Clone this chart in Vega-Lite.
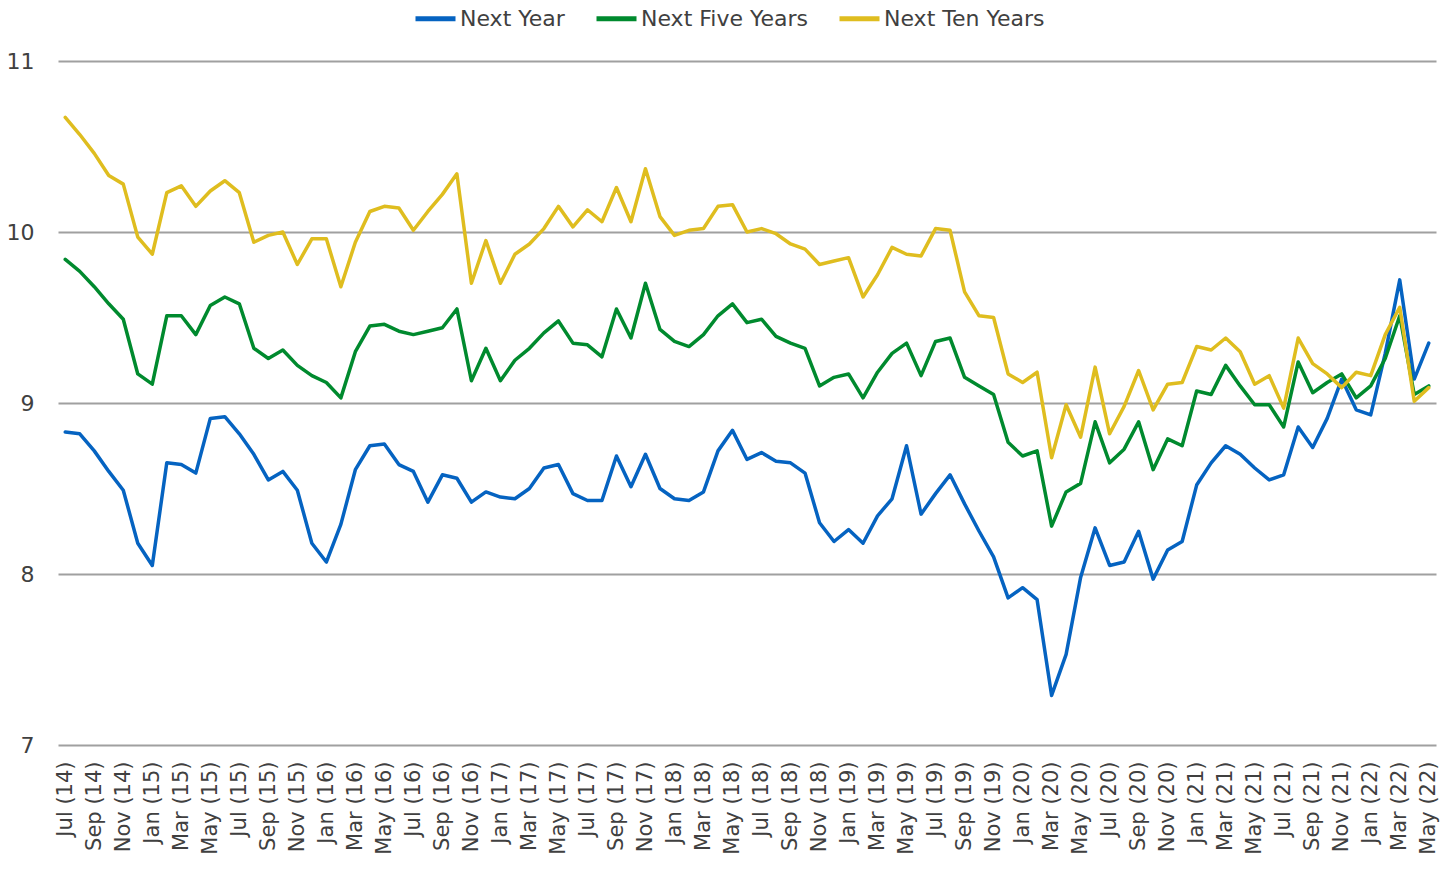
{
  "$schema": "https://vega.github.io/schema/vega-lite/v6.json",
  "autosize": {"type": "none"},
  "padding": {"left": 58, "top": 61, "right": 5, "bottom": 125},
  "width": 1378,
  "height": 684,
  "background": "#ffffff",
  "config": {
    "view": {"stroke": null},
    "font": "DejaVu Sans"
  },
  "data": {
    "values": [
      {"m": "Jul (14)", "Next Year": 8.83, "Next Five Years": 9.84, "Next Ten Years": 10.67},
      {"m": "Aug (14)", "Next Year": 8.82, "Next Five Years": 9.77, "Next Ten Years": 10.57},
      {"m": "Sep (14)", "Next Year": 8.72, "Next Five Years": 9.68, "Next Ten Years": 10.46},
      {"m": "Oct (14)", "Next Year": 8.60, "Next Five Years": 9.58, "Next Ten Years": 10.33},
      {"m": "Nov (14)", "Next Year": 8.49, "Next Five Years": 9.49, "Next Ten Years": 10.28},
      {"m": "Dec (14)", "Next Year": 8.18, "Next Five Years": 9.17, "Next Ten Years": 9.97},
      {"m": "Jan (15)", "Next Year": 8.05, "Next Five Years": 9.11, "Next Ten Years": 9.87},
      {"m": "Feb (15)", "Next Year": 8.65, "Next Five Years": 9.51, "Next Ten Years": 10.23},
      {"m": "Mar (15)", "Next Year": 8.64, "Next Five Years": 9.51, "Next Ten Years": 10.27},
      {"m": "Apr (15)", "Next Year": 8.59, "Next Five Years": 9.40, "Next Ten Years": 10.15},
      {"m": "May (15)", "Next Year": 8.91, "Next Five Years": 9.57, "Next Ten Years": 10.24},
      {"m": "Jun (15)", "Next Year": 8.92, "Next Five Years": 9.62, "Next Ten Years": 10.30},
      {"m": "Jul (15)", "Next Year": 8.82, "Next Five Years": 9.58, "Next Ten Years": 10.23},
      {"m": "Aug (15)", "Next Year": 8.70, "Next Five Years": 9.32, "Next Ten Years": 9.94},
      {"m": "Sep (15)", "Next Year": 8.55, "Next Five Years": 9.26, "Next Ten Years": 9.98},
      {"m": "Oct (15)", "Next Year": 8.60, "Next Five Years": 9.31, "Next Ten Years": 10.00},
      {"m": "Nov (15)", "Next Year": 8.49, "Next Five Years": 9.22, "Next Ten Years": 9.81},
      {"m": "Dec (15)", "Next Year": 8.18, "Next Five Years": 9.16, "Next Ten Years": 9.96},
      {"m": "Jan (16)", "Next Year": 8.07, "Next Five Years": 9.12, "Next Ten Years": 9.96},
      {"m": "Feb (16)", "Next Year": 8.29, "Next Five Years": 9.03, "Next Ten Years": 9.68},
      {"m": "Mar (16)", "Next Year": 8.61, "Next Five Years": 9.30, "Next Ten Years": 9.94},
      {"m": "Apr (16)", "Next Year": 8.75, "Next Five Years": 9.45, "Next Ten Years": 10.12},
      {"m": "May (16)", "Next Year": 8.76, "Next Five Years": 9.46, "Next Ten Years": 10.15},
      {"m": "Jun (16)", "Next Year": 8.64, "Next Five Years": 9.42, "Next Ten Years": 10.14},
      {"m": "Jul (16)", "Next Year": 8.60, "Next Five Years": 9.40, "Next Ten Years": 10.01},
      {"m": "Aug (16)", "Next Year": 8.42, "Next Five Years": 9.42, "Next Ten Years": 10.12},
      {"m": "Sep (16)", "Next Year": 8.58, "Next Five Years": 9.44, "Next Ten Years": 10.22},
      {"m": "Oct (16)", "Next Year": 8.56, "Next Five Years": 9.55, "Next Ten Years": 10.34},
      {"m": "Nov (16)", "Next Year": 8.42, "Next Five Years": 9.13, "Next Ten Years": 9.70},
      {"m": "Dec (16)", "Next Year": 8.48, "Next Five Years": 9.32, "Next Ten Years": 9.95},
      {"m": "Jan (17)", "Next Year": 8.45, "Next Five Years": 9.13, "Next Ten Years": 9.70},
      {"m": "Feb (17)", "Next Year": 8.44, "Next Five Years": 9.25, "Next Ten Years": 9.87},
      {"m": "Mar (17)", "Next Year": 8.50, "Next Five Years": 9.32, "Next Ten Years": 9.93},
      {"m": "Apr (17)", "Next Year": 8.62, "Next Five Years": 9.41, "Next Ten Years": 10.02},
      {"m": "May (17)", "Next Year": 8.64, "Next Five Years": 9.48, "Next Ten Years": 10.15},
      {"m": "Jun (17)", "Next Year": 8.47, "Next Five Years": 9.35, "Next Ten Years": 10.03},
      {"m": "Jul (17)", "Next Year": 8.43, "Next Five Years": 9.34, "Next Ten Years": 10.13},
      {"m": "Aug (17)", "Next Year": 8.43, "Next Five Years": 9.27, "Next Ten Years": 10.06},
      {"m": "Sep (17)", "Next Year": 8.69, "Next Five Years": 9.55, "Next Ten Years": 10.26},
      {"m": "Oct (17)", "Next Year": 8.51, "Next Five Years": 9.38, "Next Ten Years": 10.06},
      {"m": "Nov (17)", "Next Year": 8.70, "Next Five Years": 9.70, "Next Ten Years": 10.37},
      {"m": "Dec (17)", "Next Year": 8.50, "Next Five Years": 9.43, "Next Ten Years": 10.09},
      {"m": "Jan (18)", "Next Year": 8.44, "Next Five Years": 9.36, "Next Ten Years": 9.98},
      {"m": "Feb (18)", "Next Year": 8.43, "Next Five Years": 9.33, "Next Ten Years": 10.01},
      {"m": "Mar (18)", "Next Year": 8.48, "Next Five Years": 9.40, "Next Ten Years": 10.02},
      {"m": "Apr (18)", "Next Year": 8.72, "Next Five Years": 9.51, "Next Ten Years": 10.15},
      {"m": "May (18)", "Next Year": 8.84, "Next Five Years": 9.58, "Next Ten Years": 10.16},
      {"m": "Jun (18)", "Next Year": 8.67, "Next Five Years": 9.47, "Next Ten Years": 10.00},
      {"m": "Jul (18)", "Next Year": 8.71, "Next Five Years": 9.49, "Next Ten Years": 10.02},
      {"m": "Aug (18)", "Next Year": 8.66, "Next Five Years": 9.39, "Next Ten Years": 9.99},
      {"m": "Sep (18)", "Next Year": 8.65, "Next Five Years": 9.35, "Next Ten Years": 9.93},
      {"m": "Oct (18)", "Next Year": 8.59, "Next Five Years": 9.32, "Next Ten Years": 9.90},
      {"m": "Nov (18)", "Next Year": 8.30, "Next Five Years": 9.10, "Next Ten Years": 9.81},
      {"m": "Dec (18)", "Next Year": 8.19, "Next Five Years": 9.15, "Next Ten Years": 9.83},
      {"m": "Jan (19)", "Next Year": 8.26, "Next Five Years": 9.17, "Next Ten Years": 9.85},
      {"m": "Feb (19)", "Next Year": 8.18, "Next Five Years": 9.03, "Next Ten Years": 9.62},
      {"m": "Mar (19)", "Next Year": 8.34, "Next Five Years": 9.18, "Next Ten Years": 9.75},
      {"m": "Apr (19)", "Next Year": 8.44, "Next Five Years": 9.29, "Next Ten Years": 9.91},
      {"m": "May (19)", "Next Year": 8.75, "Next Five Years": 9.35, "Next Ten Years": 9.87},
      {"m": "Jun (19)", "Next Year": 8.35, "Next Five Years": 9.16, "Next Ten Years": 9.86},
      {"m": "Jul (19)", "Next Year": 8.47, "Next Five Years": 9.36, "Next Ten Years": 10.02},
      {"m": "Aug (19)", "Next Year": 8.58, "Next Five Years": 9.38, "Next Ten Years": 10.01},
      {"m": "Sep (19)", "Next Year": 8.41, "Next Five Years": 9.15, "Next Ten Years": 9.65},
      {"m": "Oct (19)", "Next Year": 8.25, "Next Five Years": 9.10, "Next Ten Years": 9.51},
      {"m": "Nov (19)", "Next Year": 8.10, "Next Five Years": 9.05, "Next Ten Years": 9.50},
      {"m": "Dec (19)", "Next Year": 7.86, "Next Five Years": 8.77, "Next Ten Years": 9.17},
      {"m": "Jan (20)", "Next Year": 7.92, "Next Five Years": 8.69, "Next Ten Years": 9.12},
      {"m": "Feb (20)", "Next Year": 7.85, "Next Five Years": 8.72, "Next Ten Years": 9.18},
      {"m": "Mar (20)", "Next Year": 7.29, "Next Five Years": 8.28, "Next Ten Years": 8.68},
      {"m": "Apr (20)", "Next Year": 7.53, "Next Five Years": 8.48, "Next Ten Years": 8.99},
      {"m": "May (20)", "Next Year": 7.98, "Next Five Years": 8.53, "Next Ten Years": 8.80},
      {"m": "Jun (20)", "Next Year": 8.27, "Next Five Years": 8.89, "Next Ten Years": 9.21},
      {"m": "Jul (20)", "Next Year": 8.05, "Next Five Years": 8.65, "Next Ten Years": 8.82},
      {"m": "Aug (20)", "Next Year": 8.07, "Next Five Years": 8.73, "Next Ten Years": 8.98},
      {"m": "Sep (20)", "Next Year": 8.25, "Next Five Years": 8.89, "Next Ten Years": 9.19},
      {"m": "Oct (20)", "Next Year": 7.97, "Next Five Years": 8.61, "Next Ten Years": 8.96},
      {"m": "Nov (20)", "Next Year": 8.14, "Next Five Years": 8.79, "Next Ten Years": 9.11},
      {"m": "Dec (20)", "Next Year": 8.19, "Next Five Years": 8.75, "Next Ten Years": 9.12},
      {"m": "Jan (21)", "Next Year": 8.52, "Next Five Years": 9.07, "Next Ten Years": 9.33},
      {"m": "Feb (21)", "Next Year": 8.65, "Next Five Years": 9.05, "Next Ten Years": 9.31},
      {"m": "Mar (21)", "Next Year": 8.75, "Next Five Years": 9.22, "Next Ten Years": 9.38},
      {"m": "Apr (21)", "Next Year": 8.70, "Next Five Years": 9.10, "Next Ten Years": 9.30},
      {"m": "May (21)", "Next Year": 8.62, "Next Five Years": 8.99, "Next Ten Years": 9.11},
      {"m": "Jun (21)", "Next Year": 8.55, "Next Five Years": 8.99, "Next Ten Years": 9.16},
      {"m": "Jul (21)", "Next Year": 8.58, "Next Five Years": 8.86, "Next Ten Years": 8.97},
      {"m": "Aug (21)", "Next Year": 8.86, "Next Five Years": 9.24, "Next Ten Years": 9.38},
      {"m": "Sep (21)", "Next Year": 8.74, "Next Five Years": 9.06, "Next Ten Years": 9.23},
      {"m": "Oct (21)", "Next Year": 8.91, "Next Five Years": 9.12, "Next Ten Years": 9.17},
      {"m": "Nov (21)", "Next Year": 9.14, "Next Five Years": 9.17, "Next Ten Years": 9.09},
      {"m": "Dec (21)", "Next Year": 8.96, "Next Five Years": 9.03, "Next Ten Years": 9.18},
      {"m": "Jan (22)", "Next Year": 8.93, "Next Five Years": 9.10, "Next Ten Years": 9.16},
      {"m": "Feb (22)", "Next Year": 9.29, "Next Five Years": 9.26, "Next Ten Years": 9.40},
      {"m": "Mar (22)", "Next Year": 9.72, "Next Five Years": 9.51, "Next Ten Years": 9.56},
      {"m": "Apr (22)", "Next Year": 9.14, "Next Five Years": 9.05, "Next Ten Years": 9.01},
      {"m": "May (22)", "Next Year": 9.35, "Next Five Years": 9.10, "Next Ten Years": 9.09}
    ]
  },
  "transform": [
    {"fold": ["Next Year", "Next Five Years", "Next Ten Years"], "as": ["series", "value"]}
  ],
  "mark": {"type": "line", "strokeWidth": 3.5, "strokeJoin": "round", "strokeCap": "round"},
  "encoding": {
    "x": {
      "field": "m",
      "type": "ordinal",
      "sort": null,
      "scale": {"type": "point", "padding": 0.5},
      "axis": {
        "title": null,
        "values": ["Jul (14)", "Sep (14)", "Nov (14)", "Jan (15)", "Mar (15)", "May (15)", "Jul (15)", "Sep (15)", "Nov (15)", "Jan (16)", "Mar (16)", "May (16)", "Jul (16)", "Sep (16)", "Nov (16)", "Jan (17)", "Mar (17)", "May (17)", "Jul (17)", "Sep (17)", "Nov (17)", "Jan (18)", "Mar (18)", "May (18)", "Jul (18)", "Sep (18)", "Nov (18)", "Jan (19)", "Mar (19)", "May (19)", "Jul (19)", "Sep (19)", "Nov (19)", "Jan (20)", "Mar (20)", "May (20)", "Jul (20)", "Sep (20)", "Nov (20)", "Jan (21)", "Mar (21)", "May (21)", "Jul (21)", "Sep (21)", "Nov (21)", "Jan (22)", "Mar (22)", "May (22)"],
        "labelAngle": -90,
        "labelFont": "DejaVu Sans",
        "labelFontSize": 21,
        "labelColor": "#404040",
        "labelPadding": 16,
        "labelOverlap": false,
        "ticks": false,
        "domain": false,
        "grid": false
      }
    },
    "y": {
      "field": "value",
      "type": "quantitative",
      "scale": {"domain": [7, 11], "nice": false, "zero": false},
      "axis": {
        "title": null,
        "values": [7, 8, 9, 10, 11],
        "labelFont": "DejaVu Sans",
        "labelFontSize": 22,
        "labelColor": "#404040",
        "labelPadding": 24,
        "ticks": false,
        "domain": false,
        "grid": true,
        "gridColor": "#a0a0a0",
        "gridWidth": 2
      }
    },
    "color": {
      "field": "series",
      "type": "nominal",
      "sort": ["Next Year", "Next Five Years", "Next Ten Years"],
      "scale": {
        "domain": ["Next Year", "Next Five Years", "Next Ten Years"],
        "range": ["#0563C1", "#008A2E", "#DFBD1F"]
      },
      "legend": {
        "title": null,
        "orient": "none",
        "legendX": 355,
        "legendY": -65,
        "direction": "horizontal",
        "padding": 0,
        "symbolType": "stroke",
        "symbolSize": 1600,
        "symbolStrokeWidth": 5,
        "labelFont": "DejaVu Sans",
        "labelFontSize": 22,
        "labelColor": "#404040",
        "labelOffset": 2,
        "labelLimit": 400,
        "columnPadding": 21
      }
    }
  }
}
